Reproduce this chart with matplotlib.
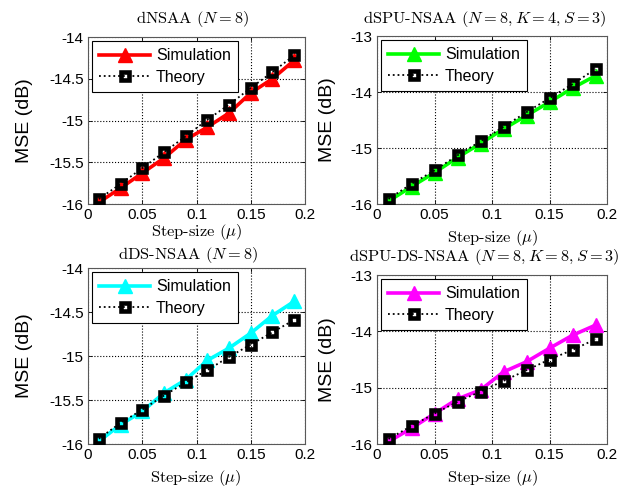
import numpy as np
import matplotlib
matplotlib.use('Agg')
import matplotlib.pyplot as plt

plt.rcParams['mathtext.fontset'] = 'cm'
plt.rcParams['font.family'] = ['Liberation Sans', 'DejaVu Sans']

# step sizes
mu = [0.01, 0.03, 0.05, 0.07, 0.09, 0.11, 0.13, 0.15, 0.17, 0.19]

# dNSAA (N=8)
sim_dnsaa = [-15.98, -15.81, -15.63, -15.45, -15.23, -15.08, -14.91, -14.67, -14.50, -14.28]
thy_dnsaa = [-15.94, -15.76, -15.57, -15.38, -15.19, -14.99, -14.81, -14.61, -14.42, -14.22]

# dSPU-NSAA (N=8, K=4, S=3)
sim_dspu = [-15.95, -15.69, -15.44, -15.17, -14.92, -14.66, -14.42, -14.18, -13.93, -13.71]
thy_dspu = [-15.91, -15.64, -15.40, -15.13, -14.88, -14.62, -14.36, -14.11, -13.86, -13.59]

# dDS-NSAA (N=8)
sim_dds = [-15.97, -15.78, -15.63, -15.42, -15.27, -15.05, -14.91, -14.74, -14.54, -14.38]
thy_dds = [-15.94, -15.76, -15.61, -15.45, -15.30, -15.16, -15.01, -14.87, -14.73, -14.59]

# dSPU-DS-NSAA (N=8, K=8, S=3)
sim_dspuds = [-15.96, -15.72, -15.46, -15.20, -15.04, -14.72, -14.54, -14.30, -14.07, -13.89]
thy_dspuds = [-15.91, -15.68, -15.46, -15.25, -15.07, -14.88, -14.69, -14.50, -14.33, -14.14]

titles = [r'dNSAA ($N=8$)',
          r'dSPU-NSAA ($N=8, K=4, S=3$)',
          r'dDS-NSAA ($N=8$)',
          r'dSPU-DS-NSAA ($N=8, K=8, S=3$)']
sims = [sim_dnsaa, sim_dspu, sim_dds, sim_dspuds]
thys = [thy_dnsaa, thy_dspu, thy_dds, thy_dspuds]
colors = [(1, 0, 0), (0, 1, 0), (0, 1, 1), (1, 0, 1)]
ylims = [(-16, -14), (-16, -13), (-16, -14), (-16, -13)]
ysteps = [0.5, 1, 0.5, 1]
ytick_labels = [['-16', '-15.5', '-15', '-14.5', '-14'],
                ['-16', '-15', '-14', '-13'],
                ['-16', '-15.5', '-15', '-14.5', '-14'],
                ['-16', '-15', '-14', '-13']]
xticks = [0, 0.05, 0.1, 0.15, 0.2]
xtick_labels = ['0', '0.05', '0.1', '0.15', '0.2']

# layout in pixels
W, H = 626, 490
boxes = [(88, 305, 37, 204),      # left, right, top, bottom
         (377, 607, 36, 204),
         (88, 305, 268, 444),
         (377, 607, 275, 444)]
title_xy = [(193, 19), (485, 19), (188, 255), (484, 257)]
xlabel_xy = [(197, 232), (493, 238), (196, 478), (493, 478)]
ylabel_x = [25, 328, 25, 328]

fig = plt.figure(figsize=(6.26, 4.9), dpi=100)

for i in range(4):
    l, r, t, b = boxes[i]
    ax = fig.add_axes([l / W, 1 - b / H, (r - l) / W, (b - t) / H])
    ax.plot(mu, sims[i], '-', color=colors[i], lw=2.6, marker='^', ms=9.5,
            mfc=colors[i], mec=colors[i], label='Simulation', zorder=3)
    ax.plot(mu, thys[i], ':', color='k', lw=1.3, marker='s', ms=6,
            mfc='none', mec='k', mew=3.3, label='Theory', zorder=4)
    ax.set_xlim(0, 0.2)
    ax.set_ylim(*ylims[i])
    ax.set_xticks(xticks)
    ax.set_xticklabels(xtick_labels)
    yt = np.arange(ylims[i][0], ylims[i][1] + 0.01, ysteps[i])
    ax.set_yticks(yt)
    ax.set_yticklabels(ytick_labels[i])
    ax.tick_params(direction='in', top=True, right=True, labelsize=11,
                   length=3, width=0.6, pad=3)
    for s in ax.spines.values():
        s.set_linewidth(0.8)
        s.set_color('0.35')
    ax.grid(True, linestyle=':', color='k', lw=0.8)

    tx, ty = title_xy[i]
    fig.text(tx / W, 1 - ty / H, titles[i], fontfamily='cmr10', fontsize=11.8,
             ha='center', va='center')

    ax.set_xlabel(r'Step-size ($\mu$)', fontfamily='cmr10', fontsize=11.8)
    lx, ly = xlabel_xy[i]
    ax.xaxis.set_label_coords((lx - l) / (r - l), (b - ly) / (b - t))
    ax.xaxis.label.set_verticalalignment('center')

    ax.set_ylabel('MSE (dB)', fontsize=14)
    ax.yaxis.set_label_coords((ylabel_x[i] - l) / (r - l), 0.5)
    ax.yaxis.label.set_verticalalignment('center')

    leg = ax.legend(loc='upper left', fontsize=11.5, handlelength=3.2,
                    fancybox=False, framealpha=1, borderaxespad=0.25,
                    borderpad=0.45, handletextpad=0.35, labelspacing=0.4)
    leg.get_frame().set_edgecolor('k')
    leg.get_frame().set_linewidth(0.8)

fig.savefig('out.png', dpi=100)
